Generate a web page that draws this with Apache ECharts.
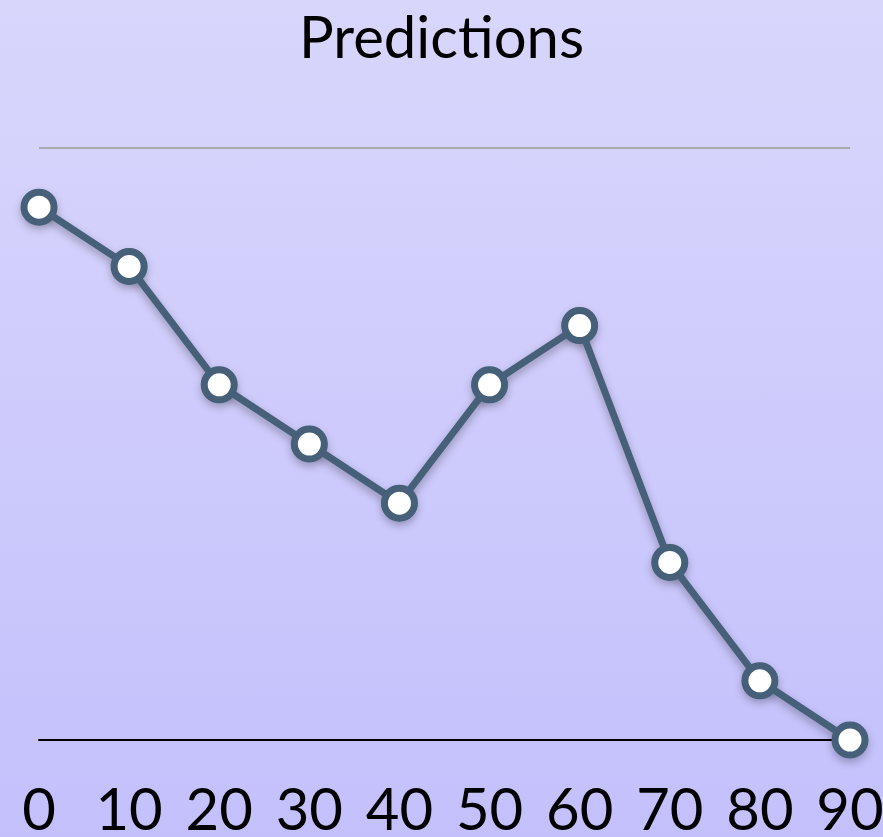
<!DOCTYPE html>
<html>
<head>
<meta charset="utf-8">
<script src="https://cdn.jsdelivr.net/npm/echarts@6/dist/echarts.min.js"></script>
<style>
  html, body { margin: 0; padding: 0; }
  #chart { width: 883px; height: 837px; background: linear-gradient(to bottom, #d9d6fc, #c3c0fc); }
</style>
</head>
<body>
<div id="chart"></div>
<script>
// Horizontal categories and the predicted values at each step
const categories = ['0', '10', '20', '30', '40', '50', '60', '70', '80', '90'];
const predictions = [9, 8, 6, 5, 4, 6, 7, 3, 1, 0];
const yMin = 0;
const yMax = 10;

const markerColor = '#46607a';

const chart = echarts.init(document.getElementById('chart'), null, { renderer: 'canvas' });

chart.setOption({
  backgroundColor: 'transparent',
  title: {
    text: 'Predictions',
    left: 'center',
    top: 5,
    textStyle: { fontFamily: 'Lato', fontWeight: 'normal', fontSize: 58, color: '#000' }
  },
  grid: {
    left: 39, right: 33, top: 148, bottom: 97,
    containLabel: false,
    outerBoundsMode: 'none'
  },
  xAxis: {
    type: 'category',
    data: categories,
    boundaryGap: false,
    axisLine: { show: true, lineStyle: { color: '#000', width: 2 } },
    axisTick: { show: false },
    axisLabel: { fontFamily: 'Lato', fontSize: 58, color: '#000', margin: 42, interval: 0 },
    splitLine: { show: false }
  },
  yAxis: {
    type: 'value',
    min: yMin,
    max: yMax,
    interval: 10,
    axisLine: { show: false },
    axisTick: { show: false },
    axisLabel: { show: false },
    splitLine: { show: true, lineStyle: { color: '#a9a9b4', width: 2 } }
  },
  series: [
    {
      // soft drop shadow under each marker
      type: 'scatter',
      data: predictions,
      symbol: 'circle',
      symbolSize: 36,
      itemStyle: {
        color: markerColor,
        shadowColor: 'rgba(0,0,0,0.35)', shadowBlur: 8, shadowOffsetY: 4
      },
      z: 3,
      clip: false,
      silent: true,
      animation: false
    },
    {
      type: 'line',
      data: predictions,
      symbol: 'circle',
      symbolSize: 30,
      showAllSymbol: true,
      lineStyle: {
        color: markerColor, width: 7,
        shadowColor: 'rgba(0,0,0,0.3)', shadowBlur: 8, shadowOffsetY: 4
      },
      itemStyle: { color: '#ffffff', borderColor: markerColor, borderWidth: 7 },
      z: 5,
      clip: false,
      animation: false
    }
  ],
  animation: false
});
</script>
</body>
</html>
